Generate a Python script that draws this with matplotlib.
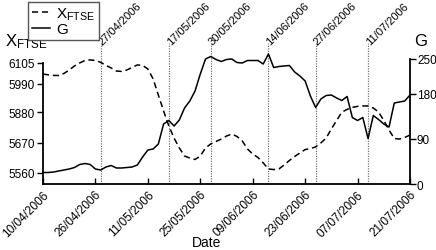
import matplotlib
matplotlib.use("Agg")
import matplotlib.pyplot as plt

plt.rcParams['font.family'] = ['Liberation Sans', 'DejaVu Sans']
plt.rcParams['mathtext.fontset'] = 'custom'
plt.rcParams['mathtext.rm'] = 'Liberation Sans'
plt.rcParams['mathtext.it'] = 'Liberation Sans'

# trading-day index 0..70 (10/04/2006 .. 21/07/2006)
x_ftse = [6050, 6046, 6043, 6043, 6053, 6070, 6090, 6105, 6117, 6120,
          6117, 6108, 6093, 6080, 6065, 6063, 6070, 6083, 6095, 6093,
          6075, 6026, 5946, 5867, 5793, 5733, 5684, 5644, 5634, 5627,
          5644, 5684, 5704, 5716, 5728, 5743, 5753, 5741, 5719, 5679,
          5654, 5637, 5610, 5580, 5577, 5580, 5600, 5622, 5642, 5659,
          5676, 5681, 5689, 5709, 5733, 5778, 5820, 5861, 5875, 5885,
          5890, 5892, 5892, 5882, 5862, 5820, 5773, 5731, 5728, 5736,
          5748]
g_vals = [23, 23, 24, 26, 28, 30, 33, 39, 41, 39,
          30, 28, 34, 37, 32, 32, 33, 34, 38, 54,
          68, 70, 80, 120, 127, 116, 128, 152, 166, 186,
          220, 250, 255, 249, 245, 249, 250, 243, 242, 247,
          247, 247, 240, 260, 233, 235, 236, 237, 224, 216,
          206, 176, 153, 170, 177, 178, 172, 167, 175, 133,
          127, 133, 91, 137, 129, 120, 114, 162, 164, 166,
          178]
tick_idx = [0, 10, 20, 30, 40, 50, 60, 70]
tick_labels = ['10/04/2006', '26/04/2006', '11/05/2006', '25/05/2006',
               '09/06/2006', '23/06/2006', '07/07/2006', '21/07/2006']
event_idx = [11, 24, 32, 43, 52, 62]
event_labels = ['27/04/2006', '17/05/2006', '30/05/2006', '14/06/2006',
                '27/06/2006', '11/07/2006']
left_tick_pos = [5560, 5709, 5862, 6001, 6105]
left_tick_labels = ['5560', '5670', '5880', '5990', '6105']
right_ticks = [0, 90, 180, 250]

fig = plt.figure(figsize=(4.36, 2.51), dpi=100)
ax = fig.add_axes([43/436, 1-185/251, 367/436, 135/251])
ax2 = ax.twinx()

idx = list(range(len(x_ftse)))
l1, = ax.plot(idx, x_ftse, color='black', linestyle=(0, (4, 2.5)), linewidth=1.1)
l2, = ax2.plot(idx, g_vals, color='black', linestyle='-', linewidth=1.1, clip_on=False)

ax.set_xlim(0, 70)
ax.set_ylim(5505.5, 6174)
ax2.set_ylim(0, 270)

for a in (ax, ax2):
    a.spines['top'].set_visible(False)
ax.spines['right'].set_visible(False)
ax2.spines['left'].set_visible(False)
ax2.spines['bottom'].set_visible(False)
ax.spines['left'].set_bounds(5505.5, 6105)
ax2.spines['right'].set_bounds(0, 250)
for sp in list(ax.spines.values()) + list(ax2.spines.values()):
    sp.set_linewidth(1.3)

ax.set_yticks(left_tick_pos)
ax.set_yticklabels(left_tick_labels)
ax2.set_yticks(right_ticks)
ax.set_xticks(tick_idx)
ax.set_xticklabels(tick_labels, rotation=45, ha='right', va='top', rotation_mode='anchor')
ax.tick_params(axis='both', labelsize=8.5, length=4, width=1, pad=2)
ax2.tick_params(axis='y', labelsize=8.5, length=4, width=1, pad=1)
ax.tick_params(axis='y', direction='out')
ax.tick_params(axis='x', direction='in', pad=3)

for xi, lab in zip(event_idx, event_labels):
    ax.axvline(xi, ymin=0, ymax=1.045, color='#777777', linestyle=(0, (1, 1)),
               linewidth=0.9, clip_on=False, zorder=1)
    ax.text(xi, 1.045, lab, transform=ax.get_xaxis_transform(), rotation=45,
            rotation_mode='anchor', ha='left', va='center', fontsize=8)

fig.text(207/436, 1-243/251, 'Date', ha='center', va='center', fontsize=10)
fig.text(5/436, 1-42/251, r'$\mathrm{X}_{\mathrm{FTSE}}$', ha='left', va='center', fontsize=12)
fig.text(421/436, 1-41/251, 'G', ha='center', va='center', fontsize=12)

leg = fig.legend([l1, l2], [r'$\mathrm{X}_{\mathrm{FTSE}}$', 'G'],
                 loc='upper left', bbox_to_anchor=(28/436, 1-3/251),
                 fontsize=11, frameon=True, fancybox=False, handlelength=1.2,
                 handletextpad=0.4, borderpad=0.25, labelspacing=0.0,
                 borderaxespad=0, framealpha=1)
leg.get_frame().set_edgecolor('#555555')
leg.get_frame().set_linewidth(1.0)
leg.set_zorder(10)

fig.savefig('out.png', dpi=100)
